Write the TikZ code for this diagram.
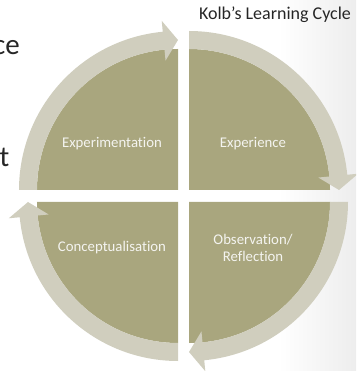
\documentclass[tikz,border=0pt]{standalone}
\usepackage{fontspec}
\setmainfont{Carlito}[Ligatures=NoCommon]

\definecolor{piecol}{HTML}{A9A67E}
\definecolor{ringcol}{HTML}{D0CEBE}
\definecolor{labelcol}{HTML}{F4F4F0}
\definecolor{titlecol}{HTML}{262626}

\tikzset{
	pie/.style={fill=piecol},
	ringarrow/.style={fill=ringcol},
	quadlabel/.style={text=labelcol, align=center, font=\fontsize{14.8}{17}\selectfont},
	cutword/.style={text=titlecol, font=\fontsize{29}{34}\selectfont, anchor=base east, inner sep=0pt},
}

% ring arrow round one quarter: corner, tail angle, tip angle
\newcommand{\cyclearrow}[3]{%
	\begin{scope}[shift={#1}]
		\fill[ringarrow] (#2:159) arc[start angle=#2, end angle=#3+5.5, radius=159]
			-- (#3+5.5:170) -- (#3:150) -- (#3+5.5:130) -- (#3+5.5:141)
			arc[start angle=#3+5.5, end angle=#2, radius=141] -- cycle;
	\end{scope}%
}

\begin{document}
\begin{tikzpicture}[x=1pt, y=1pt]

	% === FRAME === (((
	\useasboundingbox (-183.5,-175) rectangle (172.5,196);
	\clip (-183.5,-175) rectangle (172.5,196);
	\shade[left color=white, right color=black!7] (95,-175) rectangle (172.5,196);
	% )))

	% === PIES === (((
	\fill[pie] (-5.5,6) -- ++(180:141) arc[start angle=180, end angle=90, radius=141] -- cycle;
	\fill[pie] (5.5,6) -- ++(90:141) arc[start angle=90, end angle=0, radius=141] -- cycle;
	\fill[pie] (5.5,-6) -- ++(0:141) arc[start angle=0, end angle=-90, radius=141] -- cycle;
	\fill[pie] (-5.5,-6) -- ++(270:141) arc[start angle=270, end angle=180, radius=141] -- cycle;
	% )))

	% === ARROWS === (((
	\cyclearrow{(-5.5,6)}{180}{90}
	\cyclearrow{(5.5,6)}{90}{0}
	\cyclearrow{(5.5,-6)}{0}{-90}
	\cyclearrow{(-5.5,-6)}{270}{180}
	% )))

	% === NODES === (((
	\node[quadlabel] (exper) at (-71.5,52) {Experimentation};
	\node[quadlabel] (exp) at (69.5,52) {Experience};
	\node[quadlabel] (concept) at (-71.5,-52) {Conceptualisation};
	\node[quadlabel] (obs) at (69.5,-52) {Observation/\\Reflection};

	\node[text=titlecol, font=\fontsize{18}{20}\selectfont] (title) at (91.5,181) {Kolb’s Learning Cycle};

	\node[cutword] (ce) at (-163.5,141) {ce};
	\node[cutword] (t) at (-174,29) {t};
	% )))

\end{tikzpicture}
\end{document}
